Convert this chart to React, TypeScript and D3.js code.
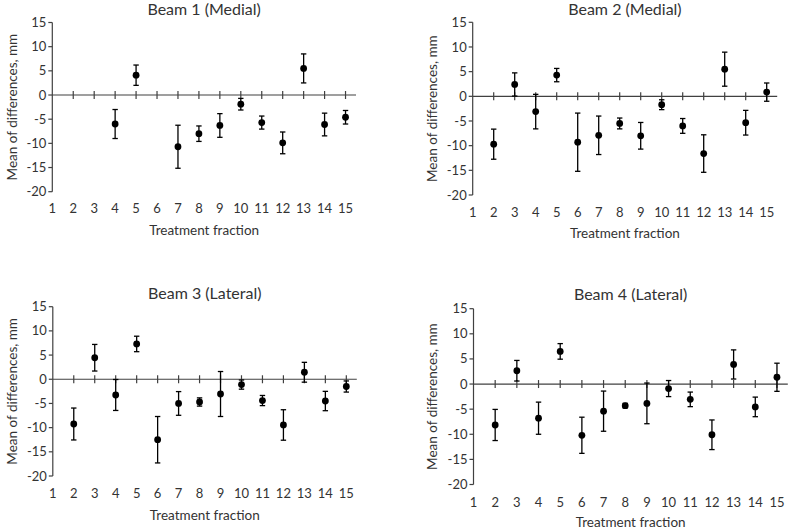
import React from "react";
import * as d3 from "d3";

const fractions = [1, 2, 3, 4, 5, 6, 7, 8, 9, 10, 11, 12, 13, 14, 15];
const yTicks = [15, 10, 5, 0, -5, -10, -15, -20];
const titles = ["Beam 1 (Medial)", "Beam 2 (Medial)", "Beam 3 (Lateral)", "Beam 4 (Lateral)"];
const xAxisTitle = "Treatment fraction";
const yAxisTitle = "Mean of differences, mm";

const beam1Mean = [null, null, null, -6.0, 4.1, null, -10.7, -8.0, -6.3, -1.9, -5.7, -9.9, 5.5, -6.1, -4.6];
const beam1Err = [null, null, null, 3.0, 2.1, null, 4.45, 1.6, 2.45, 1.2, 1.35, 2.25, 3.0, 2.35, 1.4];
const beam2Mean = [null, -9.7, 2.4, -3.1, 4.3, -9.3, -7.9, -5.5, -8.0, -1.7, -6.0, -11.6, 5.5, -5.35, 0.85];
const beam2Err = [null, 3.05, 2.35, 3.5, 1.35, 5.9, 3.9, 1.1, 2.7, 1.0, 1.5, 3.8, 3.45, 2.5, 1.85];
const beam3Mean = [null, -9.25, 4.45, -3.25, 7.3, -12.5, -5.0, -4.7, -3.05, -1.1, -4.4, -9.45, 1.45, -4.5, -1.5];
const beam3Err = [null, 3.3, 2.75, 3.2, 1.6, 4.8, 2.45, 0.85, 4.65, 0.95, 1.05, 3.15, 2.05, 2.0, 1.15];
const beam4Mean = [null, -8.15, 2.65, -6.8, 6.5, -10.2, -5.4, -4.3, -3.85, -0.9, -3.05, -10.1, 3.9, -4.55, 1.35];
const beam4Err = [null, 3.1, 2.05, 3.2, 1.55, 3.6, 4.0, 0.45, 4.05, 1.6, 1.45, 2.95, 2.9, 1.95, 2.8];

const means = [beam1Mean, beam2Mean, beam3Mean, beam4Mean];
const errs = [beam1Err, beam2Err, beam3Err, beam4Err];

// layout (pixel geometry of each panel)
const layout = [
  { x0: 52.3, x1: 356, y0: 22.5, y1: 191.7, titleY: 15, tickY: 213, xTitleY: 235, yTitleX: 16.5 },
  { x0: 472.7, x1: 777.2, y0: 22.3, y1: 195, titleY: 15, tickY: 216.5, xTitleY: 237.7, yTitleX: 436.7 },
  { x0: 52.8, x1: 356.8, y0: 306.7, y1: 476, titleY: 299, tickY: 497.5, xTitleY: 520, yTitleX: 16.7 },
  { x0: 473.5, x1: 787.8, y0: 308.7, y1: 484.5, titleY: 300, tickY: 507, xTitleY: 526.5, yTitleX: 436.7 },
];

const FONT = "Lato, 'Open Sans', sans-serif";
const TEXT = "#333333";
const AXIS = "#404040";

function Panel({ idx }: { idx: number }) {
  const L = layout[idx];
  const x = d3.scaleLinear().domain([1, 15.5]).range([L.x0, L.x1]);
  const y = d3.scaleLinear().domain([-20, 15]).range([L.y1, L.y0]);
  const m = means[idx];
  const e = errs[idx];
  const cx = (L.x0 + L.x1) / 2;
  const cap = 2.7;
  return (
    <g>
      <text x={cx} y={L.titleY} textAnchor="middle" fontSize={16} fill={TEXT} fontFamily={FONT}>
        {titles[idx]}
      </text>
      {/* y axis */}
      <line x1={L.x0} x2={L.x0} y1={y(15)} y2={y(-20)} stroke={AXIS} strokeWidth={1.2} />
      {yTicks.map((t) => (
        <g key={t}>
          <line x1={L.x0 - 4} x2={L.x0} y1={y(t)} y2={y(t)} stroke={AXIS} strokeWidth={1.2} />
          <text x={L.x0 - 6} y={y(t)} dy="0.35em" textAnchor="end" fontSize={13} fill={TEXT} fontFamily={FONT}>
            {t}
          </text>
        </g>
      ))}
      {/* x axis at zero */}
      <line x1={L.x0} x2={L.x1} y1={y(0)} y2={y(0)} stroke={AXIS} strokeWidth={1.2} />
      {fractions.map((f) => (
        <g key={f}>
          {f > 1 && <line x1={x(f)} x2={x(f)} y1={y(0) - 4} y2={y(0) + 4} stroke={AXIS} strokeWidth={1.2} />}
          <text x={x(f)} y={L.tickY} textAnchor="middle" fontSize={13} fill={TEXT} fontFamily={FONT}>
            {f}
          </text>
        </g>
      ))}
      <text x={cx} y={L.xTitleY} textAnchor="middle" fontSize={13.5} fill={TEXT} fontFamily={FONT}>
        {xAxisTitle}
      </text>
      <text
        transform={`translate(${L.yTitleX},${y(-2.5)}) rotate(-90)`}
        textAnchor="middle"
        fontSize={13.5}
        fill={TEXT}
        fontFamily={FONT}
      >
        {yAxisTitle}
      </text>
      {/* error bars and points */}
      {fractions.map((f, i) => {
        const v = m[i];
        const er = e[i];
        if (v === null || er === null) return null;
        const px = x(f);
        return (
          <g key={"p" + f}>
            <line x1={px} x2={px} y1={y(v + er)} y2={y(v - er)} stroke="#000" strokeWidth={1.3} />
            <line x1={px - cap} x2={px + cap} y1={y(v + er)} y2={y(v + er)} stroke="#000" strokeWidth={1.3} />
            <line x1={px - cap} x2={px + cap} y1={y(v - er)} y2={y(v - er)} stroke="#000" strokeWidth={1.3} />
            <circle cx={px} cy={y(v)} r={3.4} fill="#000" />
          </g>
        );
      })}
    </g>
  );
}

export default function App() {
  return (
    <div style={{ position: "absolute", left: 0, top: 0 }}>
      <svg width={789} height={529} style={{ display: "block", background: "#fff" }}>
        {[0, 1, 2, 3].map((i) => (
          <Panel key={i} idx={i} />
        ))}
      </svg>
    </div>
  );
}
